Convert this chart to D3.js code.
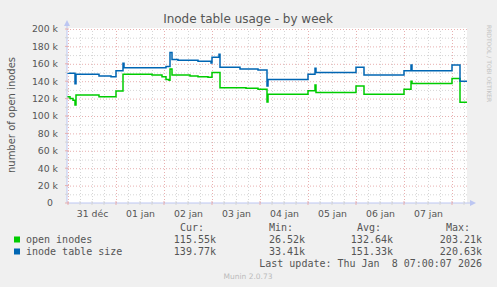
<!DOCTYPE html>
<html>
<head>
<meta charset="utf-8">
<script src="https://cdn.jsdelivr.net/npm/d3@7"></script>
<style>
  body { margin: 0; background: #f0f0f0; }
  svg { display: block; font-family: 'DejaVu Sans', sans-serif; }
  .mono { font-family: 'DejaVu Sans Mono', monospace; font-size: 10px; fill: #555; white-space: pre; }
</style>
</head>
<body>
<div id="chart"></div>
<script>
// Samples (change points), values in thousands
const times = [
  '2025-12-30T23:30', '2025-12-31T01:00', '2025-12-31T02:30', '2025-12-31T03:30', '2025-12-31T04:00',
  '2025-12-31T15:30', '2025-12-31T21:30', '2026-01-01T00:00', '2026-01-01T03:30', '2026-01-01T04:00',
  '2026-01-01T18:00', '2026-01-01T23:00', '2026-01-02T01:00', '2026-01-02T02:30', '2026-01-02T03:00',
  '2026-01-02T04:00', '2026-01-02T07:00', '2026-01-02T13:00', '2026-01-02T17:00', '2026-01-02T22:00',
  '2026-01-02T23:30', '2026-01-03T00:00', '2026-01-03T03:30', '2026-01-03T04:00', '2026-01-03T14:00',
  '2026-01-03T17:00', '2026-01-03T23:00', '2026-01-04T03:30', '2026-01-04T04:00', '2026-01-05T00:00',
  '2026-01-05T03:30', '2026-01-05T04:00', '2026-01-06T00:00', '2026-01-06T04:00', '2026-01-07T00:00',
  '2026-01-07T03:30', '2026-01-07T04:00', '2026-01-08T00:00', '2026-01-08T04:00', '2026-01-08T07:30'
];
const openInodes = [
  122, 120, 118, 112.6, 124, 122, 122, 128.7, 148, 148,
  147, 145, 142, 141, 154, 147, 147, 146, 145, 144.5,
  144.5, 150, 150, 132.5, 132.5, 132, 130.7, 116, 125, 129,
  135.6, 127, 134.5, 125, 130.7, 140, 137.5, 143, 115.7, 115.7
];
const tableSize = [
  149, 149, 149, 137, 148, 146, 145, 152, 160.6, 155.5,
  155.5, 155.5, 157, 157, 173, 165, 164, 164, 163, 163,
  161, 167.5, 171, 156, 154, 154, 153, 134.5, 142, 148,
  155, 150, 156, 147, 152, 158.6, 152, 158.6, 140, 140
];

const dayLabels = ['31 déc', '01 jan', '02 jan', '03 jan', '04 jan', '05 jan', '06 jan', '07 jan'];
const dayNoons = ['2025-12-31T12:00', '2026-01-01T12:00', '2026-01-02T12:00', '2026-01-03T12:00',
  '2026-01-04T12:00', '2026-01-05T12:00', '2026-01-06T12:00', '2026-01-07T12:00'];
const yTicks = [0, 20000, 40000, 60000, 80000, 100000, 120000, 140000, 160000, 180000, 200000];

const seriesNames = ['open inodes', 'inode table size'];
const seriesColors = ['#00cc00', '#0066b3'];
const curVals = ['115.55k', '139.77k'];
const minVals = ['26.52k', '33.41k'];
const avgVals = ['132.64k', '151.33k'];
const maxVals = ['203.21k', '220.63k'];

const W = 497, H = 287;
const plot = { left: 67, right: 467, top: 29, bottom: 203 };
const parse = d3.timeParse('%Y-%m-%dT%H:%M');
const tStart = parse('2025-12-30T23:30');
const tEnd = parse('2026-01-08T07:30');

const x = d3.scaleTime().domain([tStart, tEnd]).range([plot.left, plot.right]);
const y = d3.scaleLinear().domain([0, 200000]).range([plot.bottom, plot.top]);

const svg = d3.select('#chart').append('svg')
  .attr('width', W)
  .attr('height', H);

svg.append('rect').attr('width', W).attr('height', H).attr('fill', '#f0f0f0');
svg.append('rect')
  .attr('x', plot.left).attr('y', plot.top - 1)
  .attr('width', plot.right - plot.left).attr('height', plot.bottom - plot.top + 1)
  .attr('fill', '#fff');

const minorCol = '#d6d6d6', majorCol = '#e8b0b0';

// horizontal grid
const minorY = d3.range(10000, 200001, 20000);
const gridY = (vals, col) => svg.append('g')
  .attr('transform', `translate(${plot.left},0)`)
  .call(d3.axisLeft(y).tickValues(vals).tickSize(-(plot.right - plot.left)).tickFormat(''))
  .call(g => g.select('.domain').remove())
  .call(g => g.selectAll('line').attr('stroke', col).attr('stroke-dasharray', '1,2'));
gridY(minorY, minorCol);
gridY(yTicks.filter(d => d > 0), majorCol);

// vertical grid
const sixHours = d3.timeHour.every(6).range(tStart, tEnd);
const gridX = (vals, col) => svg.append('g')
  .attr('transform', `translate(0,${plot.bottom})`)
  .call(d3.axisBottom(x).tickValues(vals).tickSize(-(plot.bottom - plot.top)).tickFormat(''))
  .call(g => g.select('.domain').remove())
  .call(g => g.selectAll('line').attr('stroke', col).attr('stroke-dasharray', '1,2'));
gridX(sixHours.filter(d => d.getHours() !== 0), minorCol);
gridX(sixHours.filter(d => d.getHours() === 0), majorCol);

// series
const dates = times.map(parse);
const line = d3.line()
  .x(d => x(d.t))
  .y(d => y(d.v))
  .curve(d3.curveStepAfter);

[openInodes, tableSize].forEach((vals, i) => {
  const pts = vals.map((v, j) => ({ t: dates[j], v: v * 1000 }));
  svg.append('path')
    .attr('d', line(pts))
    .attr('fill', 'none')
    .attr('stroke', seriesColors[i])
    .attr('stroke-width', 1.5);
});

// axes
const axisCol = '#bcc6f2';
svg.append('line').attr('x1', plot.left).attr('x2', plot.left)
  .attr('y1', plot.bottom).attr('y2', 24).attr('stroke', axisCol);
svg.append('path').attr('d', `M${plot.left - 3},26 L${plot.left},20 L${plot.left + 3},26 Z`).attr('fill', axisCol);
svg.append('line').attr('x1', plot.left).attr('x2', 472)
  .attr('y1', plot.bottom).attr('y2', plot.bottom).attr('stroke', axisCol);
svg.append('path').attr('d', `M470,${plot.bottom - 3} L476,${plot.bottom} L470,${plot.bottom + 3} Z`).attr('fill', axisCol);

// small tick marks
svg.append('g').selectAll('line')
  .data(d3.range(0, 200001, 10000))
  .join('line')
  .attr('x1', plot.left - 2).attr('x2', plot.left + 2)
  .attr('y1', d => y(d)).attr('y2', d => y(d))
  .attr('stroke', d => d % 20000 === 0 ? majorCol : minorCol);
svg.append('g').selectAll('line')
  .data(sixHours)
  .join('line')
  .attr('x1', d => x(d)).attr('x2', d => x(d))
  .attr('y1', plot.bottom - 2).attr('y2', plot.bottom + 2)
  .attr('stroke', d => d.getHours() === 0 ? majorCol : minorCol);

// y labels
const yAxis = svg.append('g')
  .attr('transform', `translate(${plot.left},0)`)
  .call(d3.axisLeft(y).tickValues(yTicks).tickSize(0).tickPadding(9)
    .tickFormat(d => d === 0 ? '0' : (d / 1000) + ' k'));
yAxis.select('.domain').remove();
yAxis.selectAll('text')
  .attr('font-family', 'DejaVu Sans').attr('font-size', '9.3px').attr('fill', '#555')
  .attr('dx', d => d === 0 ? -5 : 0);

// x labels
const xAxis = svg.append('g')
  .attr('transform', `translate(0,${plot.bottom})`)
  .call(d3.axisBottom(x).tickValues(dayNoons.map(parse)).tickSize(0)
    .tickFormat((d, i) => dayLabels[i]));
xAxis.select('.domain').remove();
xAxis.selectAll('text')
  .attr('y', 13.5).attr('dy', 0)
  .attr('font-family', 'DejaVu Sans').attr('font-size', '9.3px').attr('fill', '#555');

// title and side texts
svg.append('text')
  .attr('x', 248).attr('y', 22.5)
  .attr('text-anchor', 'middle')
  .attr('font-size', '12px').attr('fill', '#555')
  .text('Inode table usage - by week');

svg.append('text')
  .attr('transform', 'translate(15,115) rotate(-90)')
  .attr('text-anchor', 'middle')
  .attr('font-size', '10px').attr('fill', '#555')
  .text('number of open inodes');

svg.append('text')
  .attr('transform', 'translate(486.5,25) rotate(90)')
  .attr('font-size', '6px').attr('fill', '#c4c4c4')
  .text('RRDTOOL / TOBI OETIKER');

// legend
const colHead = [[204, 'Cur:'], [293, 'Min:'], [381, 'Avg:'], [470, 'Max:']];
colHead.forEach(([cx, t]) => {
  svg.append('text').attr('class', 'mono')
    .attr('x', cx).attr('y', 230.5).attr('text-anchor', 'end').text(t);
});
const colVal = [216, 305, 393, 482];
seriesNames.forEach((name, i) => {
  const by = 242.5 + i * 12;
  svg.append('rect')
    .attr('x', 14).attr('y', by - 6).attr('width', 6).attr('height', 6)
    .attr('fill', seriesColors[i]);
  svg.append('text').attr('class', 'mono').attr('x', 26).attr('y', by).text(name);
  [curVals, minVals, avgVals, maxVals].forEach((arr, k) => {
    svg.append('text').attr('class', 'mono')
      .attr('x', colVal[k]).attr('y', by).attr('text-anchor', 'end').text(arr[i]);
  });
});
svg.append('text').attr('class', 'mono')
  .attr('x', 482).attr('y', 266.5).attr('text-anchor', 'end')
  .text('Last update: Thu Jan  8 07:00:07 2026');

svg.append('text')
  .attr('x', 248).attr('y', 279)
  .attr('text-anchor', 'middle')
  .attr('font-size', '7.5px').attr('fill', '#bbb')
  .text('Munin 2.0.73');
</script>
</body>
</html>
